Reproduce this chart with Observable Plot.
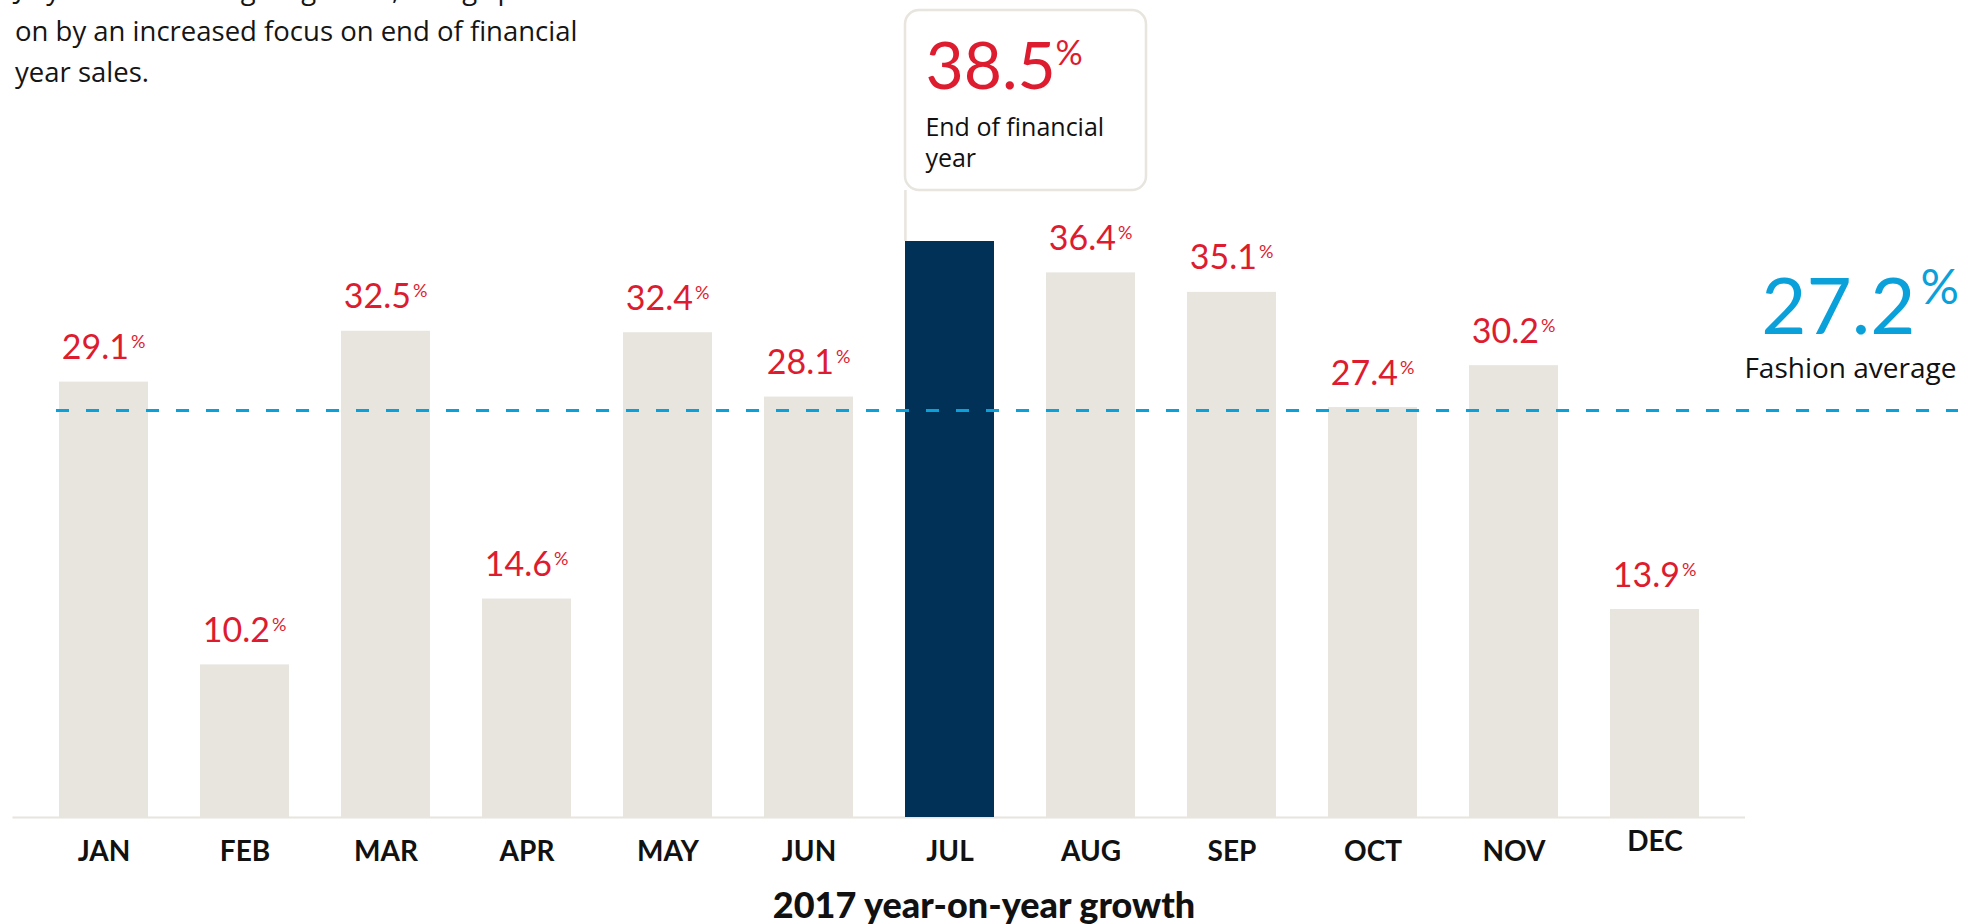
<!DOCTYPE html>
<html>
<head>
<meta charset="utf-8">
<script src="https://cdn.jsdelivr.net/npm/d3@7"></script>
<script src="https://cdn.jsdelivr.net/npm/@observablehq/plot@0.6"></script>
<style>
  html, body { margin: 0; padding: 0; background: #fff; overflow: hidden; }
  body { width: 1968px; height: 924px; position: relative; font-family: Lato, "Noto Sans", sans-serif; }
  #intro { position: absolute; left: 15px; top: -32px; font-family: "Open Sans", Lato, sans-serif; font-size: 27.5px; line-height: 41.5px; color: #151515; white-space: nowrap; }
  #chart { position: absolute; left: 0; top: 0; }
  #title { position: absolute; left: 0; width: 1968px; top: 886px; text-align: center; font-size: 36px; font-weight: 900; line-height: 36px; color: #111; }
</style>
</head>
<body>
<div id="chart"></div>
<div id="intro"></div>
<div id="title"></div>
<script>
// ---- data ----
const months = ["JAN", "FEB", "MAR", "APR", "MAY", "JUN", "JUL", "AUG", "SEP", "OCT", "NOV", "DEC"];
const growth = [29.1, 10.2, 32.5, 14.6, 32.4, 28.1, 38.5, 36.4, 35.1, 27.4, 30.2, 13.9];
const fashionAverage = 27.2;
const highlightMonth = "JUL";
const calloutText = "End of financial\nyear";
const averageText = "Fashion average";
const titleText = "2017 year-on-year growth";
const introLines = [
  "July saw the strongest growth, being spurred",
  "on by an increased focus on end of financial",
  "year sales."
];

// ---- styles ----
const beige = "#e8e4de";
const navy = "#023157";
const red = "#dd1c2f";
const blue = "#0aa0da";
const ink = "#111111";
const wide = "'Open Sans', Lato, sans-serif";

const rows = months.map((m, i) => ({month: m, value: growth[i]}));
const highlight = rows.filter(d => d.month === highlightMonth);
const others = rows.filter(d => d.month !== highlightMonth);
const fmt = d3.format(".1f");
const lowered = months.filter(m => m !== "DEC");
const raised = months.filter(m => m === "DEC");

document.getElementById("intro").innerHTML = introLines.join("<br>");
document.getElementById("title").textContent = titleText;

const chart = Plot.plot({
  width: 1968,
  height: 880,
  marginTop: 241,
  marginBottom: 63,
  marginLeft: 56,
  marginRight: 10,
  style: {fontFamily: "Lato, 'Noto Sans', sans-serif", background: "transparent", overflow: "visible"},
  x: {domain: months, range: [12.5, 1745], paddingInner: 0.37, paddingOuter: 0.3, axis: null},
  y: {domain: [0, d3.max(growth)], axis: null},
  marks: [
    Plot.ruleY([0], {stroke: beige, strokeWidth: 2, insetLeft: -43.5, insetRight: 213}),
    Plot.barY(others, {x: "month", y: "value", fill: beige}),
    Plot.barY(highlight, {x: "month", y: "value", fill: navy}),
    Plot.ruleY([fashionAverage], {stroke: blue, strokeWidth: 3, strokeDasharray: "13,17"}),
    // value labels
    Plot.text(others, {x: "month", y: "value", text: d => fmt(d.value), textAnchor: "end", lineAnchor: "bottom", dx: 25, dy: -23, fontSize: 34, fill: red}),
    Plot.text(others, {x: "month", y: "value", text: () => "%", textAnchor: "start", lineAnchor: "bottom", dx: 27, dy: -34, fontSize: 18, fill: red}),
    // callout
    Plot.ruleX(highlight, {x: "month", y1: "value", y2: "value", insetTop: -51, stroke: beige, strokeWidth: 2.5, dx: -44.6}),
    Plot.barY(highlight, {x: "month", y1: "value", y2: "value", insetTop: -231, insetBottom: 51, insetRight: -152, fill: "white", stroke: beige, strokeWidth: 2.5, rx: 14}),
    Plot.text(highlight, {x: "month", y: "value", text: d => fmt(d.value), textAnchor: "start", lineAnchor: "bottom", dx: -24.6, dy: -153, fontSize: 66, fill: red}),
    Plot.text(highlight, {x: "month", y: "value", text: () => "%", textAnchor: "start", lineAnchor: "bottom", dx: 105.4, dy: -176.5, fontSize: 34, fill: red}),
    Plot.text(highlight, {x: "month", y: "value", text: () => calloutText, textAnchor: "start", lineAnchor: "bottom", dx: -24.6, dy: -75, fontSize: 25, lineHeight: 1.22, fontFamily: wide, fill: ink}),
    // average labels
    Plot.text([fashionAverage], {y: d => d, frameAnchor: "right", text: d => fmt(d), textAnchor: "end", lineAnchor: "bottom", dx: -43, dy: -77, fontSize: 78, fill: blue}),
    Plot.text([fashionAverage], {y: d => d, frameAnchor: "right", text: () => "%", textAnchor: "start", lineAnchor: "bottom", dx: -38, dy: -106.5, fontSize: 48, fill: blue}),
    Plot.text([fashionAverage], {y: d => d, frameAnchor: "right", text: () => averageText, textAnchor: "end", lineAnchor: "bottom", dx: -2, dy: -33, fontSize: 28, fontFamily: wide, fill: ink}),
    // month labels
    Plot.text(lowered, {x: d => d, text: d => d, frameAnchor: "bottom", lineAnchor: "bottom", dy: 43, fontSize: 28, fontWeight: 700, fill: ink}),
    Plot.text(raised, {x: d => d, text: d => d, frameAnchor: "bottom", lineAnchor: "bottom", dy: 33, fontSize: 28, fontWeight: 700, fill: ink})
  ]
});
document.getElementById("chart").appendChild(chart);
</script>
</body>
</html>
